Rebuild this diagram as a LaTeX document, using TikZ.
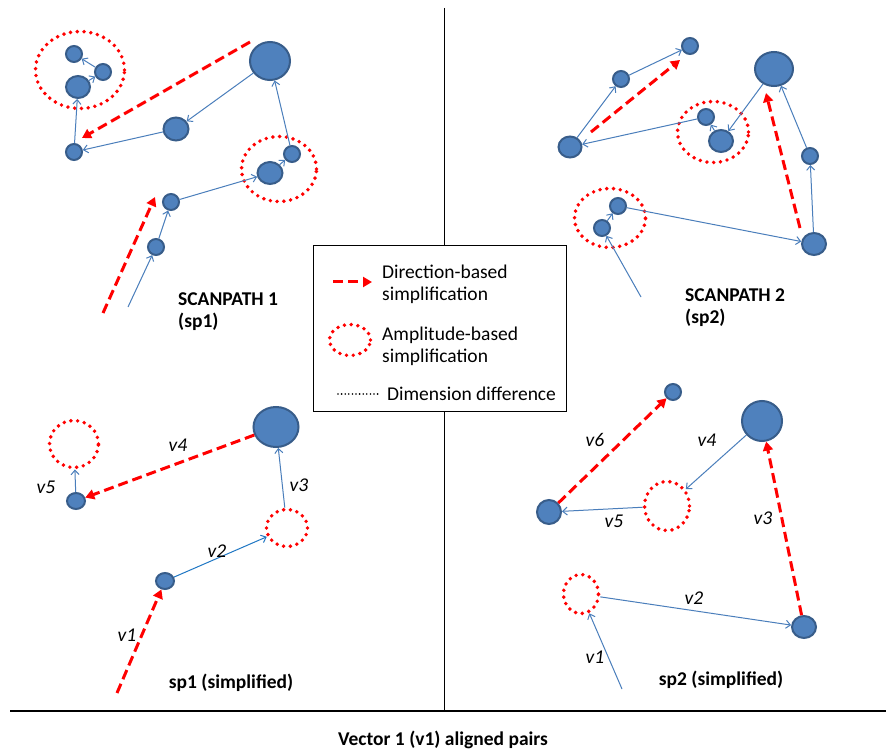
\documentclass[tikz,border=0pt]{standalone}
\usepackage{fontspec}
\setmainfont{Carlito}
\usetikzlibrary{arrows.meta,shapes.geometric}
\definecolor{nblue}{HTML}{4F81BD}
\definecolor{nborder}{HTML}{385D8A}
\definecolor{lblue}{HTML}{4A7EBB}
\definecolor{lblue2}{HTML}{1F77C4}
\begin{document}
\begin{tikzpicture}[x=1pt,y=-1pt,
  fix/.style={ellipse,fill=nblue,draw=nborder,line width=2pt,inner sep=0pt},
  fs/.style={fix,minimum width=16pt,minimum height=16pt},
  amp/.style={ellipse,draw=red,line width=3.9pt,dash pattern=on 0pt off 6.8pt,line cap=round,inner sep=0pt},
  sac/.style={draw=lblue,line width=1pt,-{Straight Barb[length=4.5pt,width=8pt]}},
  dir/.style={draw=red,line width=3pt,dash pattern=on 10pt off 5pt,-{Triangle[length=9pt,width=10pt]}},
  lbl/.style={font=\fontsize{19.5}{22}\selectfont\itshape,inner sep=0pt},
  ttl/.style={font=\fontsize{19.5}{22}\selectfont\bfseries,align=left,inner sep=0pt},
  leg/.style={font=\fontsize{19.5}{22}\selectfont,align=left,inner sep=0pt}
]
\useasboundingbox (0,0) rectangle (886,751);
\fill[white] (0,0) rectangle (886,751);

% dividers
\coordinate (vt) at (444,8);
\coordinate (vb) at (444,711);
\coordinate (hl) at (10,711);
\coordinate (hr) at (886,711);
\draw[line width=1pt] (vt) -- (vb);
\draw[line width=1.2pt] (hl) -- (hr);

% ================= Top-left: SCANPATH 1 =================
\node[amp,minimum width=89pt,minimum height=77pt] (c1) at (80,70) {};
\node[amp,minimum width=75pt,minimum height=65pt] (c2) at (279,169) {};
\node[fs] (A1) at (74,54) {};
\node[fix,minimum width=24pt,minimum height=22pt] (A2) at (78,87) {};
\node[fs] (A3) at (103,72) {};
\node[fix,minimum width=40pt,minimum height=38pt] (B) at (270,61) {};
\node[fix,minimum width=25pt,minimum height=23pt] (C) at (176,129) {};
\node[fs] (D) at (74,152) {};
\node[fs] (E2) at (292,154) {};
\node[fix,minimum width=25pt,minimum height=22pt] (E1) at (270,173) {};
\node[fs] (F) at (171,202) {};
\node[fs] (G) at (156,247) {};
\coordinate (s1) at (128,307);
\draw[sac] (s1) -- (G);
\draw[sac] (G) -- (F);
\draw[sac] (F) -- (E1);
\draw[sac] (E1) -- (E2);
\draw[sac] (E2) -- (B);
\draw[sac] (B) -- (C);
\draw[sac] (C) -- (D);
\draw[sac] (D) -- (A2);
\draw[sac] (A2) -- (A3);
\draw[sac] (A3) -- (A1);
\coordinate (d1a) at (103,313);
\coordinate (d1b) at (155,197);
\coordinate (d2a) at (250,42);
\coordinate (d2b) at (82,138);
\draw[dir] (d1a) -- (d1b);
\draw[dir] (d2a) -- (d2b);
\node[ttl,anchor=west] (t1) at (178,312) {SCANPATH 1\\(sp1)};

% ================= Top-right: SCANPATH 2 =================
\node[amp,minimum width=71pt,minimum height=61pt] (c3) at (713,132) {};
\node[amp,minimum width=71pt,minimum height=59pt] (c4) at (610,218) {};
\node[fix,minimum width=23pt,minimum height=21pt] (P1) at (570,147) {};
\node[fs] (P2) at (621,79) {};
\node[fs] (P3) at (690,46) {};
\node[fix,minimum width=38pt,minimum height=34pt] (Q) at (774,69) {};
\node[fs] (R) at (706,117) {};
\node[fix,minimum width=24pt,minimum height=22pt] (S) at (721,141) {};
\node[fs] (T) at (810,156) {};
\node[fix,minimum width=24pt,minimum height=22pt] (U) at (814,244) {};
\node[fs] (V) at (618,206) {};
\node[fs] (W) at (602,228) {};
\coordinate (s2) at (641,297);
\draw[sac] (s2) -- (W);
\draw[sac] (W) -- (V);
\draw[sac] (V) -- (U);
\draw[sac] (U) -- (T);
\draw[sac] (T) -- (Q);
\draw[sac] (Q) -- (S);
\draw[sac] (S) -- (R);
\draw[sac] (R) -- (P1);
\draw[sac] (P1) -- (P2);
\draw[sac] (P2) -- (P3);
\coordinate (d3a) at (800,228);
\coordinate (d3b) at (766,93);
\coordinate (d4a) at (591,132);
\coordinate (d4b) at (680,60);
\draw[dir] (d3a) -- (d3b);
\draw[dir] (d4a) -- (d4b);
\node[ttl,anchor=west] (t2) at (685,308) {SCANPATH 2\\(sp2)};

% ================= Legend =================
\node[draw=black,line width=0.8pt,fill=white,minimum width=253pt,minimum height=166pt,inner sep=0pt] (legbox) at (439.5,328) {};
\coordinate (la) at (333,282);
\coordinate (lb) at (372,282);
\draw[dir] (la) -- (lb);
\node[leg,anchor=west] (l1) at (382,284) {Direction-based\\simplification};
\node[amp,minimum width=41pt,minimum height=31pt] (lc) at (350,340) {};
\node[leg,anchor=west] (l2) at (382,346) {Amplitude-based\\simplification};
\coordinate (ld1) at (338,394);
\coordinate (ld2) at (380,394);
\draw[line width=1.8pt,dash pattern=on 0pt off 3.6pt,line cap=round] (ld1) -- (ld2);
\node[leg,anchor=west] (l3) at (387,394) {Dimension difference};

% ================= Bottom-left: sp1 simplified =================
\node[fix,minimum width=45pt,minimum height=40pt] (X) at (276,427) {};
\node[amp,minimum width=49pt,minimum height=47pt] (Y1) at (74,444) {};
\node[fix,minimum width=18pt,minimum height=16pt] (Z) at (76,501) {};
\node[amp,minimum width=41pt,minimum height=37pt] (Y2) at (287,528) {};
\node[fix,minimum width=18pt,minimum height=16pt] (N) at (165,581) {};
\coordinate (s3) at (117,693);
\draw[dir] (s3) -- (N);
\draw[sac,draw=lblue2] (N) -- (Y2);
\draw[sac] (Y2) -- (X);
\draw[dir] (X) -- (Z);
\draw[sac] (Z) -- (Y1);
\node[lbl] (bv1) at (127,635) {v1};
\node[lbl] (bv2) at (217,551) {v2};
\node[lbl] (bv3) at (299,485) {v3};
\node[lbl] (bv4) at (178,445) {v4};
\node[lbl] (bv5) at (46,487) {v5};
\node[ttl] (t3) at (231,683) {sp1 (simplified)};

% ================= Bottom-right: sp2 simplified =================
\node[fs] (K1) at (673,392) {};
\node[fix,minimum width=40pt,minimum height=40pt] (K2) at (762,421) {};
\node[amp,minimum width=45pt,minimum height=49pt] (K3) at (667,506) {};
\node[fix,minimum width=24pt,minimum height=24pt] (K4) at (549,512) {};
\node[amp,minimum width=35pt,minimum height=39pt] (K5) at (581,594) {};
\node[fix,minimum width=24pt,minimum height=22pt] (K6) at (804,627) {};
\coordinate (s4) at (622,689);
\draw[sac] (s4) -- (K5);
\draw[sac] (K5) -- (K6);
\draw[dir] (K6) -- (K2);
\draw[sac] (K2) -- (K3);
\draw[sac] (K3) -- (K4);
\draw[dir] (K4) -- (K1);
\node[lbl] (rv1) at (595,657) {v1};
\node[lbl] (rv2) at (694,598) {v2};
\node[lbl] (rv3) at (763,518) {v3};
\node[lbl] (rv4) at (707,440) {v4};
\node[lbl] (rv5) at (614,521) {v5};
\node[lbl] (rv6) at (595,440) {v6};
\node[ttl] (t4) at (721,680) {sp2 (simplified)};

\node[ttl] (bt) at (443,740) {Vector 1 (v1) aligned pairs};
\end{tikzpicture}
\end{document}
